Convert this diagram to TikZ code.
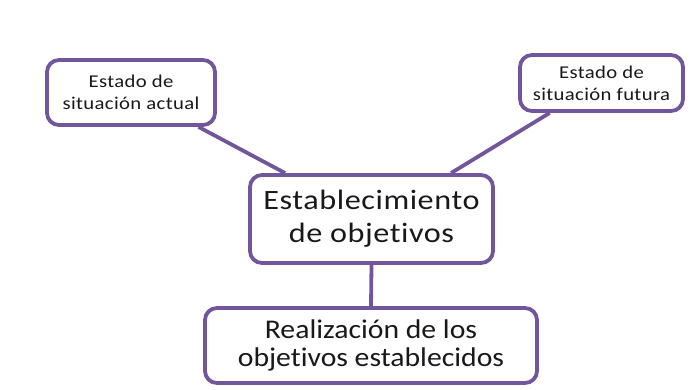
\documentclass[tikz,border=0pt]{standalone}
\usepackage{fontspec}
\setmainfont{Carlito}[Ligatures=NoCommon]
\usepackage{xcolor}
\definecolor{boxpurple}{HTML}{72569C}

\begin{document}
\begin{tikzpicture}[x=1pt,y=-1pt,
  caja/.style={draw=boxpurple,line width=3.8pt,rounded corners=12pt,fill=white,align=center,inner sep=2pt,text=black!90},
  chica/.style={caja,font=\fontsize{18}{22}\selectfont\addfontfeature{FakeStretch=1.15,LetterSpace=2}},
  grande/.style={caja,font=\fontsize{28}{33}\selectfont\addfontfeature{FakeStretch=1.15,LetterSpace=2}},
  enlace/.style={draw=boxpurple,line width=3.8pt}]
\useasboundingbox (0,0) rectangle (696,389);

\node[chica,minimum width=168pt,minimum height=65pt] (actual) at (131,92.5) {Estado de\\situación actual};
\node[chica,minimum width=163pt,minimum height=56pt] (futura) at (601.5,83) {Estado de\\situación futura};
\node[grande,minimum width=243pt,minimum height=88pt] (objetivos) at (371.5,219) {Establecimiento\\de objetivos};
\node[grande,font=\fontsize{27}{28}\selectfont\addfontfeature{FakeStretch=1.1},minimum width=332pt,minimum height=75pt] (realizacion) at (371,345.5) {Realización de los\\objetivos establecidos};

\draw[enlace] (actual.-27) -- (objetivos.152);
\draw[enlace] (futura.210) -- (objetivos.30);
\draw[enlace] (objetivos.south) -- (realizacion.north);
\end{tikzpicture}
\end{document}
